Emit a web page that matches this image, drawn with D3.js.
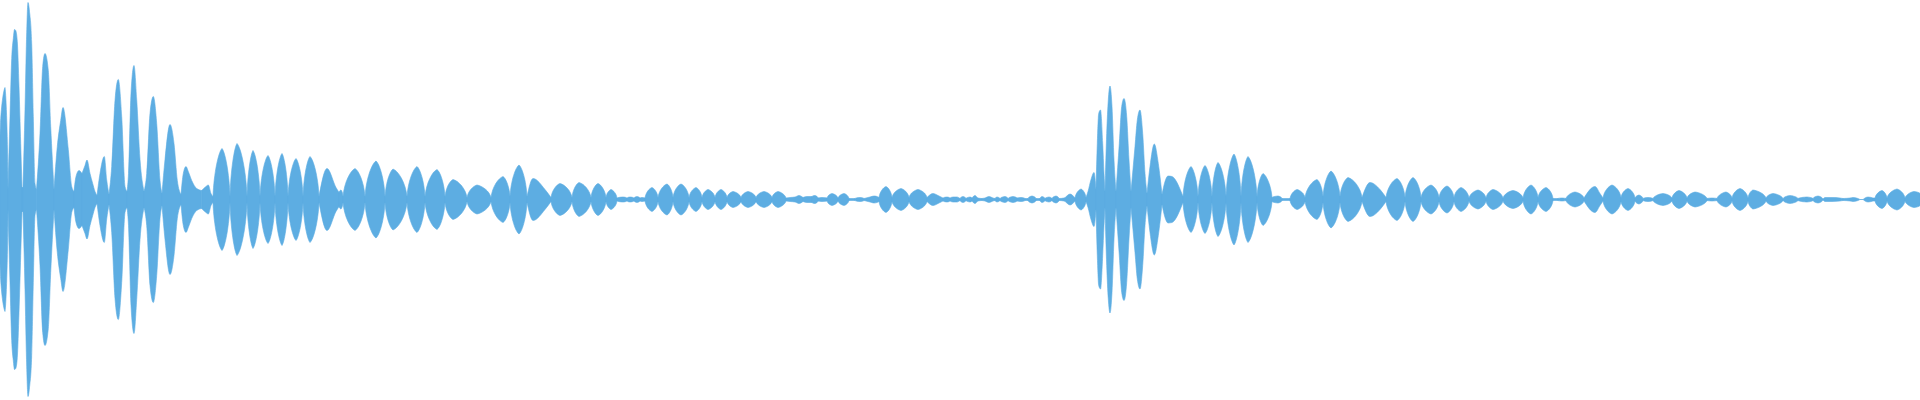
<!DOCTYPE html>
<html>
<head>
<meta charset="utf-8">
<script src="https://cdn.jsdelivr.net/npm/d3@7"></script>
<style>
  html, body { margin: 0; padding: 0; background: #ffffff; overflow: hidden; }
  svg { display: block; }
</style>
</head>
<body>
<svg id="chart" width="1920" height="400"></svg>
<script>
// Waveform envelope: [time position, peak amplitude]
const segmentA = [
  [0,64],[5,112],[8,10],[10,83],[11.7,141],[13.3,161],[14.5,170],[15.7,169],[17.3,158],[19,113],[20.7,56],[22,12],
  [23,12],[25,90],[26.5,160],[28,197],[29.5,188],[31.7,156],[33.3,83],[35,16],[36.5,10],
  [40,66],[42.7,133],[45,146],[48.3,129],[50.7,73],[54,10],
  [57.3,53],[60.7,79],[63,92],[68.3,50],[71.7,13],[74,8],
  [76,23],[79,29],[82,26],[85,34],[87,39.5],[90,26],[92.7,16],[95,8],[97,4],
  [100,26],[104.3,43],[106.7,19.5],[109,5],
  [111.7,33],[115,99],[118.3,120],[121.7,83],[125,13],[127,8],
  [128.5,26],[131,106],[134,134],[136.7,100],[140,40],[144,8],
  [146.7,26],[150,86],[153.3,103],[156.7,76],[160,19],[162,6],
  [165,40],[170,75],[174,56],[177.3,19],[181,5],
  [183.3,26],[186,33],[188.3,28],[191.7,19],[196.7,11],[201.7,9],[206,13],[208.3,14.5],[211,6],[213,3],
  [222,51],[230,3],[237,56],[247,3],[253,49],[260,3],[268,44],[275,3],[282,46],[288,3],[296,41],[303,3],[310,43],[319,3]
];
const segmentB = [
  [327,31],[336,12],[339,7],[341,9.5],[343,3],[355,31],[365,3],[376,38.5],[385,3],[393,30.5],[407,3],
  [417,33],[425,3],[437,30],[445,3],[453,20],[467,2],[477,14.5],[491,2],[503,23],[510,3],[519,34.5],[527,3],
  [533,21],[545,10],[551,2],[560,16],[572,2],[579,17],[591,2],[598,16],[606,2],[611,10],[617,1.5],
  [623,2.5],[627,1.5],[630,2.5],[634,1.5],[637,3],[640,1.5],
  [642,2],[645,1.5],[652,12],[658,2],[667,15.5],[673,2],[681,15.5],[689,2],[696,12],[702,2],[708,10],[715,2],
  [721,10],[727,2],[733,8],[741,2],[748,8],[756,2],[764,8],[772,2],[778,8],[786,1.5],[790,2],[795,2.5],[799,4],
  [803,2],[807,3],[812,3],[815,4],[818,1.5],[822,2],[827,1.5],[832,6],[838,1.5],[844,6],[849,1],[855,1],[860,2],
  [864,1],[870,2.5],[874,3.5],[877,3],[879,2],[886,13],[892,2],[901,11],[909,2],[918,10],[927,2],[933,6],[938,4],
  [943,1.5],[947,2.5],[950,1.5],[953,2.5],[957,2.5],[960,1]
];
const segmentC = [
  [963,3],[966,1],[970,2.5],[972,1.5],[975,4],[978,1.5],[982,1],[985,1.5],[989,3],[993,1.5],[995,1],[997,2.5],
  [1000,1],[1005,3],[1008,1],[1013,3],[1017,1.5],[1021,2],[1025,1],[1028,1],[1032,3.5],[1036,1],[1040,1],[1042,3],
  [1045,1],[1049,2.5],[1052,1],[1056,3.5],[1059,1],[1064,1.5],[1070,5.5],[1075,1.5],[1081,10.5],[1086,2],
  [1088,8],[1091,20],[1094,27],[1096,10],
  [1097.3,56],[1098.7,86],[1100.5,89.5],[1102.7,56],[1104,26],[1105,8],
  [1106.7,66],[1108.3,99.5],[1110,113.5],[1112,93],[1114,39.5],[1116,8],
  [1119.3,56],[1121.7,93],[1124,101],[1126.7,83],[1129,39.5],[1131,8],
  [1135,53],[1137.3,79.5],[1140,89.5],[1142.7,66],[1145,26],[1147,6],
  [1150,33],[1154.3,55.5],[1158.3,36],[1162,5],
  [1165,18],[1168,23.5],[1172,23],[1177,17],[1181,8],[1183,3],
  [1191,33],[1198,3],[1205,34],[1212,3],[1218,37],[1226,3],[1234,45.5],[1241,3],[1248,43],[1257,3],[1263,26],[1272,2],
  [1278,3.5],[1282,1]
];
const segmentD = [
  [1290,1],[1297,10],[1305,2],[1317,20],[1323,3],[1331,28.5],[1340,3],[1348,22],[1362,2],[1370,17],[1380,10],[1386,2],
  [1397,21],[1405,2],[1413,22],[1421,2],[1431,14.5],[1439,2],[1447,13.5],[1454,2],[1461,12],[1469,1.5],[1478,9.5],
  [1486,1.5],[1493,10],[1503,1.5],[1513,9],[1523,1.5],[1531,14.5],[1538,2],[1546,12],[1553,1],[1558,1],[1562,1.5],
  [1566,1],[1575,7.5],[1584,1.5],[1595,13],[1600,6],[1603,1.5],[1612,14.5],[1621,2],[1628,11],[1635,1.5],[1639,4.5],
  [1643,1],[1648,2],[1653,1],[1663,6],[1672,1.5],[1679,9],[1687,1.5],[1695,7.5],[1707,1],[1712,1.5],[1717,1],
  [1726,7.5],[1732,1.5],[1740,11],[1748,1.5],[1753,9.5],[1766,1.5],[1773,6],[1783,1],[1790,4],[1798,1],[1807,2.5],
  [1813,1],[1818,3.5],[1823,0.5],[1825,2],[1832,2],[1840,1.5],[1843,1],[1850,1.5],[1853,2],[1858,1],[1860,0],
  [1863,0],[1865,1.5],[1868,2.5],[1873,1.5],[1875,1.5],[1882,9],[1887,1.5],[1897,10.5],[1905,1.5],[1914,8],[1920,6]
];

const envelope = segmentA.concat(segmentB, segmentC, segmentD);

const width = 1920, height = 400;
const waveColor = "#5dade2";

const x = d3.scaleLinear().domain([0, 1920]).range([0, width]);
const y = d3.scaleLinear().domain([-200, 200]).range([height - 0.5, -0.5]);

// Split the envelope into lobes at its local minima, so each lobe
// keeps a sharp cusp at the valleys (like a beating waveform).
const lobes = [];
let current = [envelope[0]];
for (let i = 1; i < envelope.length; i++) {
  current.push(envelope[i]);
  const prev = envelope[i - 1][1], here = envelope[i][1];
  const next = i < envelope.length - 1 ? envelope[i + 1][1] : Infinity;
  if (here <= prev && here <= next && i < envelope.length - 1) {
    lobes.push(current);
    current = [envelope[i]];
  }
}
if (current.length > 1) lobes.push(current);

const area = d3.area()
  .x(d => x(d[0]))
  .y0(d => y(-d[1]))
  .y1(d => y(d[1]))
  .curve(d3.curveMonotoneX);

// Simple valley-peak-valley lobes: rounded-diamond shape built from cubic curves.
function lobePath(l) {
  if (l.length !== 3 || !(l[1][1] > l[0][1] && l[1][1] > l[2][1])) return area(l);
  const [[t0, v0], [tp, A], [t1, v1]] = l;
  const rL = tp - t0, rR = t1 - tp;
  const dL = A - v0, dR = A - v1;
  const p = d3.path();
  p.moveTo(x(t0), y(v0));
  p.bezierCurveTo(x(t0 + 0.1 * rL), y(v0 + 0.5 * dL), x(tp - 0.38 * rL), y(A - 0.07 * dL), x(tp), y(A));
  p.bezierCurveTo(x(tp + 0.38 * rR), y(A - 0.07 * dR), x(t1 - 0.1 * rR), y(v1 + 0.5 * dR), x(t1), y(v1));
  p.lineTo(x(t1), y(-v1));
  p.bezierCurveTo(x(t1 - 0.1 * rR), y(-(v1 + 0.5 * dR)), x(tp + 0.38 * rR), y(-(A - 0.07 * dR)), x(tp), y(-A));
  p.bezierCurveTo(x(tp - 0.38 * rL), y(-(A - 0.07 * dL)), x(t0 + 0.1 * rL), y(-(v0 + 0.5 * dL)), x(t0), y(-v0));
  p.closePath();
  return p.toString();
}

const svg = d3.select("#chart");
svg.append("g")
  .selectAll("path")
  .data(lobes)
  .join("path")
  .attr("d", lobePath)
  .attr("fill", waveColor)
  .attr("stroke", waveColor)
  .attr("stroke-width", 0.6);
</script>
</body>
</html>
